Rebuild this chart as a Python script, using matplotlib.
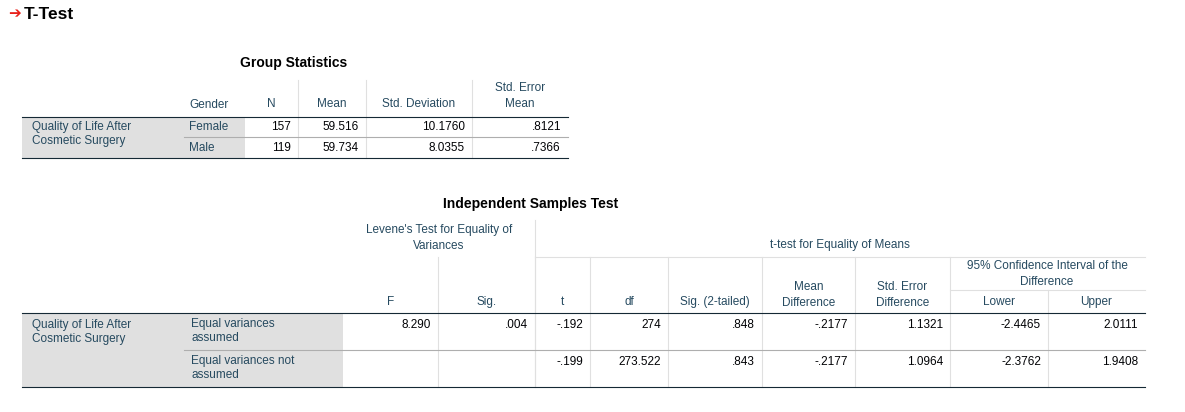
import matplotlib.pyplot as plt

plt.rcParams['font.family'] = ['Liberation Sans', 'DejaVu Sans']

LABEL = '#264a60'
DATA = '#010205'
GRAY = '#e0e0e0'
FS = 8.5

# Group statistics
gs_headers = ['Gender', 'N', 'Mean', 'Std. Deviation', 'Std. Error\nMean']
gs_groups = ['Female', 'Male']
gs_n = ['157', '119']
gs_mean = ['59.516', '59.734']
gs_sd = ['10.1760', '8.0355']
gs_se = ['.8121', '.7366']

# Independent samples test
ist_rows = ['Equal variances\nassumed', 'Equal variances not\nassumed']
ist_headers = ['F', 'Sig.', 't', 'df', 'Sig. (2-tailed)', 'Mean\nDifference',
               'Std. Error\nDifference', 'Lower', 'Upper']
ist_vals = [
    ['8.290', '.004', '-.192', '274', '.848', '-.2177', '1.1321', '-2.4465', '2.0111'],
    ['', '', '-.199', '273.522', '.843', '-.2177', '1.0964', '-2.3762', '1.9408'],
]
var_name = 'Quality of Life After\nCosmetic Surgery'

fig = plt.figure(figsize=(11.85, 4.12), dpi=100)
ax = fig.add_axes([0, 0, 1, 1])
ax.set_xlim(0, 1185)
ax.set_ylim(412, 0)
ax.axis('off')


def hline(y, x0, x1, c='#aeaeae', lw=0.8):
    ax.plot([x0, x1], [y, y], color=c, lw=lw)


def vline(x, y0, y1, c='#e0e0e0', lw=0.8):
    ax.plot([x, x], [y0, y1], color=c, lw=lw)


# title
ax.text(8, 14, '\u2794', color='#e8201a', fontsize=11, va='center', ha='left', family='DejaVu Sans')
ax.text(24, 14, 'T-Test', fontsize=12.5, weight='bold', va='center', ha='left')

# ---- Group Statistics ----
ax.text(294, 63, 'Group Statistics', fontsize=10, weight='bold', ha='center', va='center')
cols = [184, 245, 298, 366, 472, 568]
ax.add_patch(plt.Rectangle((22, 117), 223, 41, color=GRAY, lw=0))
ax.text(189, 105, gs_headers[0], color=LABEL, fontsize=FS, va='center')
for i, h in enumerate(gs_headers[1:]):
    xc = (cols[i + 1] + cols[i + 2]) / 2
    ax.text(xc, 104 if '\n' not in h else 96, h, color=LABEL, fontsize=FS,
            ha='center', va='center', linespacing=1.4)
for x in cols[2:-1]:
    vline(x, 80, 158)
ax.text(32, 134, var_name, color=LABEL, fontsize=FS, va='center', linespacing=1.3)
for r in range(2):
    y = 127 + r * 21
    ax.text(189, y, gs_groups[r], color=LABEL, fontsize=FS, va='center')
    for j, v in enumerate([gs_n[r], gs_mean[r], gs_sd[r], gs_se[r]]):
        ax.text(cols[j + 2] - 7, y, v, color=DATA, fontsize=FS, ha='right', va='center')
hline(117, 22, 568, c='#152935')
hline(137, 184, 568)
hline(158, 22, 568, c='#152935')

# ---- Independent Samples Test ----
ax.text(531, 204, 'Independent Samples Test', fontsize=10, weight='bold', ha='center', va='center')
c2 = [343, 438, 535, 590, 668, 762, 855, 950, 1048, 1145]
ax.add_patch(plt.Rectangle((22, 313), 321, 74, color=GRAY, lw=0))
ax.text(439, 238, "Levene's Test for Equality of\nVariances", color=LABEL, fontsize=FS,
        ha='center', va='center', linespacing=1.4)
ax.text(840, 245, 't-test for Equality of Means', color=LABEL, fontsize=FS, ha='center', va='center')
ax.text(1047, 274, '95% Confidence Interval of the\nDifference', color=LABEL, fontsize=FS,
        ha='center', va='center', linespacing=1.4)
hline(257, 535, 1145, c='#e0e0e0')
hline(290, 950, 1145, c='#e0e0e0')
vline(535, 220, 387)
for x in c2[1:-1]:
    top = 290 if x == 1048 else (257 if x > 535 else 257)
    vline(x, top, 387)
for i, h in enumerate(ist_headers):
    xc = (c2[i] + c2[i + 1]) / 2
    ax.text(xc, 302 if '\n' not in h else 295, h, color=LABEL, fontsize=FS,
            ha='center', va='center', linespacing=1.4)
ax.text(32, 332, var_name, color=LABEL, fontsize=FS, va='center', linespacing=1.3)
for r in range(2):
    y0 = 313 + r * 37
    ax.text(191, y0 + 18, ist_rows[r], color=LABEL, fontsize=FS, va='center', linespacing=1.3)
    for j, v in enumerate(ist_vals[r]):
        ax.text(c2[j + 1] - 7, y0 + 12, v, color=DATA, fontsize=FS, ha='right', va='center')
hline(313, 22, 1145, c='#152935')
hline(350, 184, 1145)
hline(387, 22, 1145, c='#152935')

fig.savefig('out.png', dpi=100, facecolor='white')
